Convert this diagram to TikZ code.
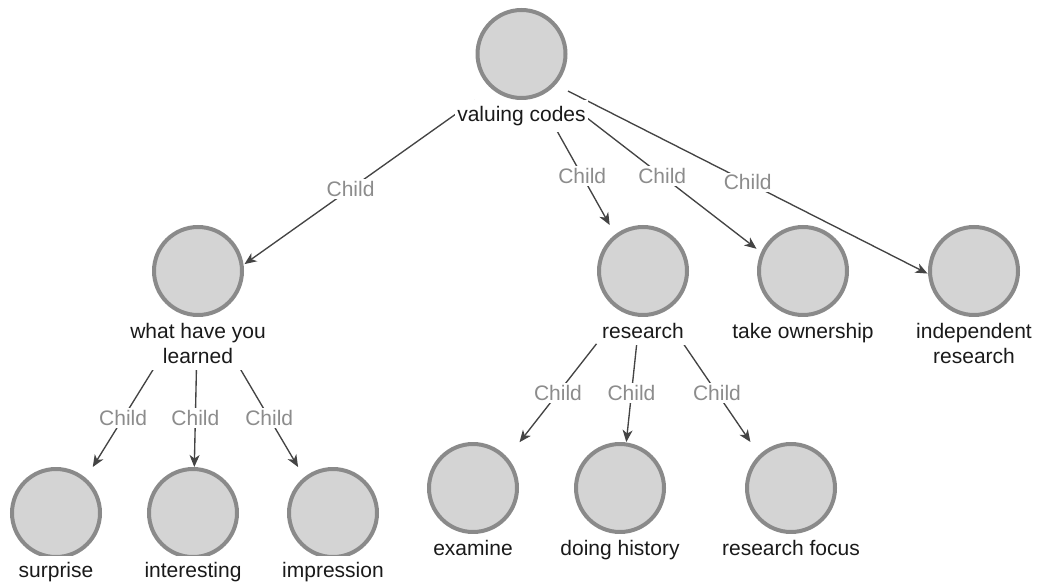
\documentclass[tikz,border=0pt]{standalone}
\usepackage{fontspec}
\setmainfont{Liberation Sans}
\usetikzlibrary{arrows.meta}

\definecolor{ringgray}{HTML}{8A8A8A}
\definecolor{discgray}{HTML}{D4D4D4}
\definecolor{edgegray}{HTML}{444444}
\definecolor{childgray}{HTML}{8C8C8C}
\definecolor{inkgray}{HTML}{1A1A1A}

\tikzset{
  disc/.style={circle, draw=ringgray, fill=discgray, line width=4pt,
    minimum size=88pt, inner sep=0pt},
  % invisible box spanning a concept's circle and its caption
  hull/.style={rectangle, inner sep=0pt, outer sep=0pt,
    minimum width=93pt, minimum height=119pt},
  tallhull/.style={hull, minimum height=144pt},
  caption/.style={anchor=north, align=center, fill=white, text=inkgray,
    inner xsep=2pt, inner ysep=6pt, font=\fontsize{21}{25}\selectfont},
  childof/.style={draw=edgegray, line width=1.35pt,
    -{Stealth[length=12pt,width=10pt,inset=3.5pt]}},
  childtag/.style={fill=white, text=childgray, inner sep=2pt,
    font=\fontsize{21}{25}\selectfont},
}

\begin{document}
\begin{tikzpicture}[x=1pt, y=-1pt]
\useasboundingbox (0,0) rectangle (1040,588);

% concept circles
\node[disc] (vc) at (521.5,54) {};
\node[disc] (wl) at (198,271) {};
\node[disc] (rs) at (643,271) {};
\node[disc] (to) at (803,271) {};
\node[disc] (ir) at (974,271) {};
\node[disc] (su) at (56,513) {};
\node[disc] (in) at (193,513) {};
\node[disc] (im) at (333,513) {};
\node[disc] (ex) at (473,488) {};
\node[disc] (dh) at (620,488) {};
\node[disc] (rf) at (791,488) {};

% boxes used as connector end points
\node[hull]     (vc-h) at (521.5,67.5) {};
\node[tallhull] (wl-h) at (198,297) {};
\node[hull]     (rs-h) at (643,284.5) {};
\node[hull]     (to-h) at (803,284.5) {};
\node[tallhull] (ir-h) at (974,297) {};
\node[hull]     (su-h) at (56,526.5) {};
\node[hull]     (in-h) at (193,526.5) {};
\node[hull]     (im-h) at (333,526.5) {};
\node[hull]     (ex-h) at (473,501.5) {};
\node[hull]     (dh-h) at (620,501.5) {};
\node[hull]     (rf-h) at (791,501.5) {};

% child relations
\draw[childof] (vc-h) -- node[childtag, pos=0.54] (t1) {Child} (wl-h);
\draw[childof] (vc-h) -- node[childtag] (t2) {Child} (rs-h);
\draw[childof] (vc-h) -- node[childtag] (t3) {Child} (to-h);
\draw[childof] (vc-h) -- node[childtag] (t4) {Child} (ir-h);
\draw[childof] (wl-h) -- node[childtag] (t5) {Child} (su-h);
\draw[childof] (wl-h) -- node[childtag] (t6) {Child} (in-h);
\draw[childof] (wl-h) -- node[childtag] (t7) {Child} (im-h);
\draw[childof] (rs-h) -- node[childtag] (t8) {Child} (ex-h);
\draw[childof] (rs-h) -- node[childtag] (t9) {Child} (dh-h);
\draw[childof] (rs-h) -- node[childtag] (t10) {Child} (rf-h);

% captions
\node[caption] (vc-l) at (521.5,100) {valuing codes};
\node[caption] (wl-l) at (198,317) {what have you\\learned};
\node[caption] (rs-l) at (643,317) {research};
\node[caption] (to-l) at (803,317) {take ownership};
\node[caption] (ir-l) at (974,317) {independent\\research};
\node[caption] (su-l) at (56,556) {surprise};
\node[caption] (in-l) at (193,556) {interesting};
\node[caption] (im-l) at (333,556) {impression};
\node[caption] (ex-l) at (473,534) {examine};
\node[caption] (dh-l) at (620,534) {doing history};
\node[caption] (rf-l) at (791,534) {research focus};
\end{tikzpicture}
\end{document}
